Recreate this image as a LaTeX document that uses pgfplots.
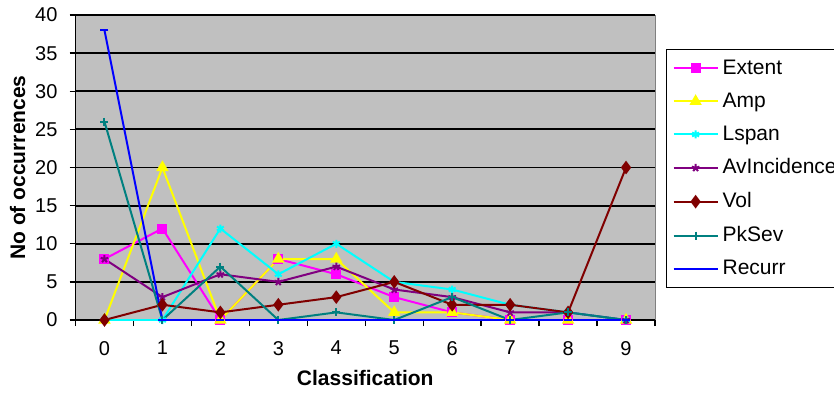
\documentclass[border=0pt]{standalone}
\usepackage{pgfplots}
\pgfplotsset{compat=1.18}
\usepackage{fontspec}
\setmainfont{Liberation Sans}
\definecolor{plotgray}{RGB}{192,192,192}
\definecolor{cExtent}{RGB}{255,0,255}
\definecolor{cAmp}{RGB}{255,255,0}
\definecolor{cLspan}{RGB}{0,255,255}
\definecolor{cAv}{RGB}{128,0,128}
\definecolor{cVol}{RGB}{128,0,0}
\definecolor{cPk}{RGB}{0,128,128}
\definecolor{cRec}{RGB}{0,0,255}
\begin{document}
\begin{tikzpicture}
\useasboundingbox (0,0) rectangle (417pt,196pt);
\begin{axis}[
  at={(37.75pt,36pt)}, anchor=south west,
  scale only axis, width=289.75pt, height=152.5pt,
  xmin=-0.5, xmax=9.5, ymin=0, ymax=40,
  axis lines*=left,
  axis line style={-, black, line width=0.8pt},
  axis background/.style={fill=plotgray, draw=gray},
  ytick={0,5,...,40},
  xtick={0,1,...,9},
  minor xtick={-0.5,0.5,...,9.5},
  tick align=outside,
  major tick length=3pt,
  minor tick length=3pt,
  tick style={black, line width=0.7pt},
  major x tick style={draw=none},
  ymajorgrids,
  grid style={black, line width=0.9pt},
  /pgf/number format/assume math mode=true,
  tick label style={font=\fontsize{10}{11}\selectfont},
  xticklabel style={yshift=-4pt},
  yticklabel style={xshift=-2.5pt},
  xlabel={\textbf{Classification}},
  ylabel={\textbf{No of occurrences}},
  every axis x label/.style={at={(axis description cs:0.5,-0.19)}, anchor=center, font=\fontsize{10.5}{12}\selectfont},
  every axis y label/.style={at={(axis description cs:-0.1,0.5)}, rotate=90, anchor=center, font=\fontsize{10.5}{12}\selectfont},
  legend style={at={(axis description cs:1.019,0.8885)}, anchor=north west, draw=black, line width=0.6pt, fill=white,
    font=\fontsize{10.5}{11}\selectfont, row sep=3.8pt, inner sep=3pt, cells={anchor=west}},
  legend cell align=left,
  legend image code/.code={\draw[mark repeat=2,mark phase=2] plot coordinates {(0pt,0pt) (11pt,0pt) (22pt,0pt)};},
  every axis plot/.append style={line width=1pt},
]
\addplot[cExtent, mark=square*, mark size=2pt] coordinates {(0,8) (1,12) (2,0) (3,8) (4,6) (5,3) (6,1) (7,0) (8,0) (9,0)};
\addlegendentry{Extent}
\addplot[cAmp, mark=triangle*, mark size=2.6pt] coordinates {(0,0) (1,20) (2,0) (3,8) (4,8) (5,1) (6,1) (7,0) (8,0) (9,0)};
\addlegendentry{Amp}
\addplot[cLspan, mark=asterisk, mark size=2pt] coordinates {(0,0) (1,0) (2,12) (3,6) (4,10) (5,5) (6,4) (7,2) (8,1) (9,0)};
\addlegendentry{Lspan}
\addplot[cAv, mark=star, mark size=2pt] coordinates {(0,8) (1,3) (2,6) (3,5) (4,7) (5,4) (6,3) (7,1) (8,1) (9,0)};
\addlegendentry{AvIncidence}
\addplot[cVol, mark=diamond*, mark size=2.6pt] coordinates {(0,0) (1,2) (2,1) (3,2) (4,3) (5,5) (6,2) (7,2) (8,1) (9,20)};
\addlegendentry{Vol}
\addplot[cPk, mark=+, mark size=2pt] coordinates {(0,26) (1,0) (2,7) (3,0) (4,1) (5,0) (6,3) (7,0) (8,1) (9,0)};
\addlegendentry{PkSev}
\addplot[cRec, mark=-, mark size=2pt] coordinates {(0,38) (1,0) (2,0) (3,0) (4,0) (5,0) (6,0) (7,0) (8,0) (9,0)};
\addlegendentry{Recurr}
\end{axis}
\end{tikzpicture}
\end{document}
